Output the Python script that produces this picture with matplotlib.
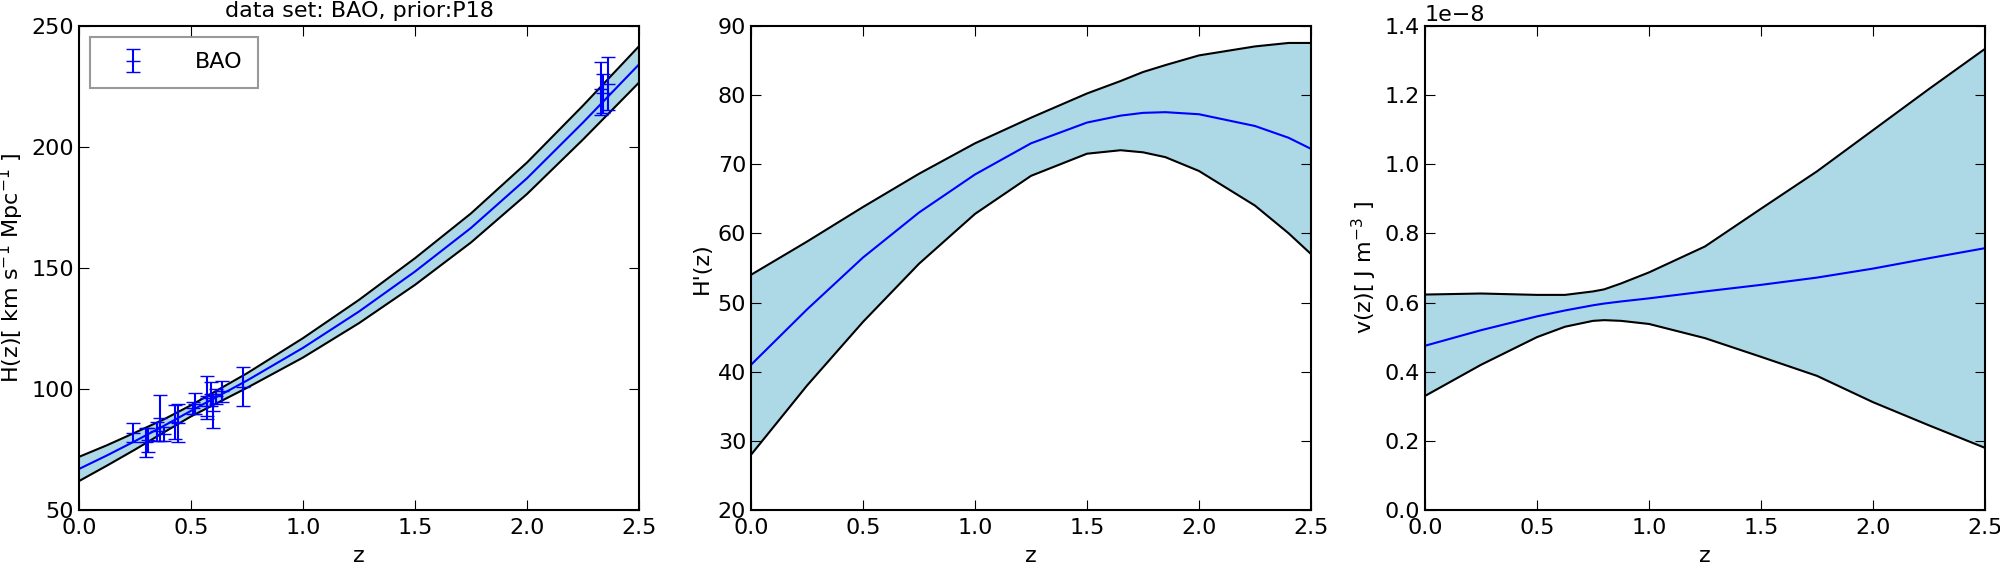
import matplotlib
matplotlib.use("Agg")
import matplotlib.pyplot as plt
import numpy as np

# panel 1: H(z) reconstruction + BAO points
z1 = [0.0, 0.125, 0.25, 0.375, 0.5, 0.75, 1.0, 1.25, 1.5, 1.75, 2.0, 2.25, 2.5]
h_mean = [67.0, 72.6, 78.5, 84.6, 91.0, 103.5, 117.0, 132.0, 148.5, 166.5, 187.0, 210.0, 234.0]
h_up = [72.0, 76.8, 82.0, 87.3, 93.3, 106.5, 121.0, 136.8, 154.0, 172.5, 193.5, 217.0, 241.5]
h_lo = [62.0, 68.4, 75.0, 81.9, 88.7, 100.5, 113.0, 127.2, 143.0, 160.5, 180.5, 203.0, 226.5]

bao_z = [0.24, 0.30, 0.31, 0.35, 0.36, 0.38, 0.43, 0.44, 0.51, 0.52, 0.57, 0.57, 0.59, 0.60,
         0.61, 0.64, 0.73, 2.33, 2.34, 2.36]
bao_h = [82.0, 78.0, 79.0, 82.5, 88.0, 81.5, 86.5, 86.0, 92.0, 94.0, 93.0, 96.5, 98.0, 91.0,
         97.0, 99.0, 101.0, 224.0, 222.0, 226.0]
bao_err = [4.0, 6.0, 5.0, 4.0, 9.5, 3.0, 7.0, 8.0, 2.5, 4.5, 4.0, 9.0, 5.0, 7.0,
           3.0, 4.5, 8.0, 11.0, 8.0, 11.0]

# panel 2: H'(z)
z2 = [0.0, 0.25, 0.5, 0.75, 1.0, 1.25, 1.5, 1.65, 1.75, 1.85, 2.0, 2.25, 2.4, 2.5]
dh_mean = [41.0, 49.0, 56.5, 63.0, 68.5, 73.0, 76.0, 77.0, 77.4, 77.5, 77.2, 75.5, 73.8, 72.2]
dh_up = [54.0, 58.8, 63.8, 68.6, 73.0, 76.7, 80.2, 82.0, 83.3, 84.3, 85.7, 87.0, 87.5, 87.5]
dh_lo = [28.0, 38.0, 47.2, 55.6, 62.8, 68.3, 71.5, 72.0, 71.7, 71.0, 69.0, 64.0, 60.0, 57.0]

# panel 3: v(z) in units of 1e-8 J m^-3
z3 = [0.0, 0.25, 0.5, 0.625, 0.75, 0.8, 0.875, 1.0, 1.25, 1.5, 1.75, 2.0, 2.25, 2.5]
v_mean = [0.475, 0.52, 0.56, 0.577, 0.592, 0.597, 0.603, 0.612, 0.632, 0.651, 0.672, 0.698, 0.728, 0.757]
v_up = [0.623, 0.626, 0.622, 0.622, 0.632, 0.638, 0.655, 0.687, 0.762, 0.871, 0.979, 1.098, 1.217, 1.333]
v_lo = [0.33, 0.42, 0.50, 0.53, 0.547, 0.549, 0.547, 0.538, 0.497, 0.443, 0.388, 0.312, 0.245, 0.18]

plt.rcParams["font.family"] = "DejaVu Sans"
plt.rcParams["font.size"] = 16
plt.rcParams["xtick.direction"] = "in"
plt.rcParams["ytick.direction"] = "in"
plt.rcParams["xtick.top"] = True
plt.rcParams["ytick.right"] = True
plt.rcParams["xtick.major.size"] = 7
plt.rcParams["ytick.major.size"] = 7
plt.rcParams["xtick.major.pad"] = 6

fig = plt.figure(figsize=(20, 5.7), dpi=100)
bottom, height, width = 0.105, 0.85, 0.28
lefts = [0.0395, 0.3755, 0.7125]
axes = [fig.add_axes([l, bottom, width, height]) for l in lefts]

band = "lightblue"


def draw_band(ax, z, lo, mid, up):
    ax.fill_between(z, lo, up, color=band, lw=0)
    ax.plot(z, up, color="black", lw=1.5)
    ax.plot(z, lo, color="black", lw=1.5)
    ax.plot(z, mid, color="blue", lw=1.5)
    ax.set_xlim(0, 2.5)
    ax.set_xlabel("z")
    for s in ax.spines.values():
        s.set_linewidth(1.5)


ax = axes[0]
draw_band(ax, z1, h_lo, h_mean, h_up)
ax.errorbar(bao_z, bao_h, yerr=bao_err, fmt="_", color="blue", ecolor="blue",
            capsize=5, elinewidth=1.5, markersize=10, label="BAO")
ax.set_ylim(50, 250)
ax.set_yticks([50, 100, 150, 200, 250])
ax.set_ylabel(r"H(z)[ km s$^{-1}$ Mpc$^{-1}$ ]")
ax.set_title("data set: BAO, prior:P18", fontsize=16)
leg = ax.legend(loc="upper left", fancybox=False, borderpad=0.7, handlelength=2.5,
                handletextpad=1.5)
leg.get_frame().set_edgecolor("gray")
leg.get_frame().set_linewidth(1.5)

ax = axes[1]
draw_band(ax, z2, dh_lo, dh_mean, dh_up)
ax.set_ylim(20, 90)
ax.set_ylabel("H'(z)")

ax = axes[2]
draw_band(ax, z3, np.array(v_lo) * 1e-8, np.array(v_mean) * 1e-8, np.array(v_up) * 1e-8)
ax.set_ylim(0, 1.4e-8)
ax.set_ylabel(r"v(z)[ J m$^{-3}$ ]")

for ax in axes:
    ax.xaxis.set_label_coords(0.5, -0.075)

fig.savefig("out.png", dpi=100, facecolor="white")
